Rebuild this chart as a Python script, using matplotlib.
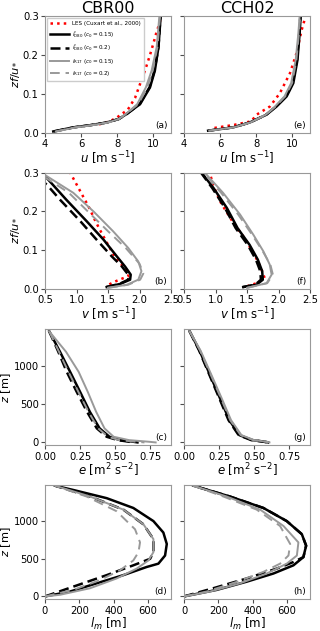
import matplotlib
matplotlib.use('Agg')

import matplotlib.pyplot as plt
import numpy as np

# ---- (a) CBR00 u ----
a_les_u = [7.0, 7.6, 8.0, 8.6, 9.0, 9.28, 9.55, 9.83, 10.05, 10.2, 10.35, 10.45]
a_les_z = [0.022, 0.03, 0.04, 0.06, 0.09, 0.126, 0.16, 0.2, 0.235, 0.26, 0.28, 0.3]
a_d15_u = [4.46, 5.57, 6.5, 7.43, 8.1, 8.54, 9.28, 9.83, 10.1, 10.3, 10.43]
a_d15_z = [0.004, 0.0145, 0.02, 0.027, 0.036, 0.049, 0.074, 0.117, 0.16, 0.22, 0.305]
a_d20_u = [4.5, 5.6, 6.5, 7.45, 8.1, 8.55, 9.25, 9.8, 10.08, 10.3, 10.42]
a_d20_z = [0.004, 0.0145, 0.02, 0.027, 0.036, 0.049, 0.074, 0.117, 0.16, 0.22, 0.305]
a_r15_u = [4.6, 5.7, 6.6, 7.5, 8.1, 8.5, 9.12, 9.6, 9.92, 10.2, 10.36]
a_r15_z = [0.004, 0.0145, 0.02, 0.027, 0.036, 0.049, 0.074, 0.117, 0.16, 0.22, 0.305]
a_r20_u = [4.6, 5.7, 6.6, 7.5, 8.1, 8.5, 9.18, 9.68, 9.98, 10.24, 10.4]
a_r20_z = [0.004, 0.0145, 0.02, 0.027, 0.036, 0.049, 0.074, 0.117, 0.16, 0.22, 0.305]

# ---- (e) CCH02 u ----
e_les_u = [5.69, 6.8, 7.73, 8.03, 8.77, 9.32, 9.88, 10.25, 10.53, 10.72]
e_les_z = [0.013, 0.021, 0.03, 0.047, 0.068, 0.102, 0.153, 0.205, 0.264, 0.294]
e_d15_u = [5.34, 6.73, 7.65, 8.58, 9.14, 9.7, 10.07, 10.3, 10.42, 10.48]
e_d15_z = [0.006, 0.0145, 0.027, 0.047, 0.068, 0.094, 0.128, 0.1875, 0.256, 0.3]
e_d20_u = [5.36, 6.75, 7.66, 8.56, 9.1, 9.66, 10.03, 10.27, 10.4, 10.46]
e_d20_z = [0.006, 0.0145, 0.027, 0.047, 0.068, 0.094, 0.128, 0.1875, 0.256, 0.3]
e_r15_u = [5.4, 6.76, 7.68, 8.55, 9.05, 9.58, 9.95, 10.2, 10.35, 10.42]
e_r15_z = [0.006, 0.0145, 0.027, 0.047, 0.068, 0.094, 0.128, 0.1875, 0.256, 0.3]
e_r20_u = [5.4, 6.76, 7.68, 8.56, 9.08, 9.62, 10.0, 10.24, 10.38, 10.45]
e_r20_z = [0.006, 0.0145, 0.027, 0.047, 0.068, 0.094, 0.128, 0.1875, 0.256, 0.3]

# ---- (b) CBR00 v ----
b_les_v = [1.52, 1.65, 1.82, 1.82, 1.70, 1.6, 1.48, 1.38, 1.3, 1.2, 1.1, 0.9]
b_les_z = [0.012, 0.022, 0.033, 0.045, 0.065, 0.085, 0.12, 0.15, 0.175, 0.21, 0.24, 0.3]
b_d15_v = [1.479, 1.69, 1.85, 1.86, 1.77, 1.64, 1.43, 1.16, 0.84, 0.53, 0.5]
b_d15_z = [0.005, 0.013, 0.024, 0.037, 0.058, 0.084, 0.127, 0.175, 0.23, 0.286, 0.292]
b_d20_v = [1.47, 1.68, 1.82, 1.82, 1.72, 1.56, 1.32, 1.06, 0.74, 0.53, 0.5]
b_d20_z = [0.005, 0.013, 0.024, 0.037, 0.058, 0.084, 0.127, 0.175, 0.23, 0.269, 0.273]
b_r15_v = [1.5, 1.80, 1.98, 2.03, 1.98, 1.82, 1.58, 1.27, 0.95, 0.53, 0.5]
b_r15_z = [0.003, 0.011, 0.024, 0.046, 0.071, 0.106, 0.149, 0.2, 0.248, 0.291, 0.294]
b_r20_v = [1.5, 1.82, 2.01, 2.06, 2.0, 1.78, 1.5, 1.18, 0.88, 0.53, 0.5]
b_r20_z = [0.003, 0.011, 0.024, 0.04, 0.065, 0.106, 0.149, 0.2, 0.248, 0.285, 0.288]

# ---- (f) CCH02 v ----
f_les_v = [1.5, 1.65, 1.78, 1.72, 1.62, 1.46, 1.27, 1.09, 0.96, 0.91]
f_les_z = [0.007, 0.015, 0.028, 0.054, 0.088, 0.131, 0.174, 0.221, 0.268, 0.3]
f_d15_v = [1.44, 1.65, 1.75, 1.74, 1.67, 1.54, 1.35, 1.18, 0.97, 0.78]
f_d15_z = [0.005, 0.011, 0.024, 0.046, 0.076, 0.114, 0.157, 0.209, 0.26, 0.3]
f_d20_v = [1.43, 1.63, 1.72, 1.71, 1.64, 1.51, 1.32, 1.15, 0.95, 0.77]
f_d20_z = [0.005, 0.011, 0.024, 0.046, 0.076, 0.114, 0.157, 0.209, 0.26, 0.3]
f_r15_v = [1.5, 1.81, 1.89, 1.86, 1.76, 1.60, 1.39, 1.12, 0.83]
f_r15_z = [0.003, 0.015, 0.037, 0.063, 0.097, 0.14, 0.192, 0.248, 0.3]
f_r20_v = [1.5, 1.82, 1.91, 1.87, 1.75, 1.58, 1.36, 1.09, 0.81]
f_r20_z = [0.003, 0.015, 0.037, 0.063, 0.097, 0.14, 0.192, 0.248, 0.3]

# ---- (c) CBR00 e ----
c_z = [1450, 1183, 922, 661, 400, 183, 74, 30, 9, 0]
c_d15_e = [0.03, 0.107, 0.179, 0.25, 0.32, 0.39, 0.46, 0.536, 0.63, 0.66]
c_d20_e = [0.03, 0.095, 0.155, 0.226, 0.30, 0.37, 0.44, 0.52, 0.6, 0.63]
c_r15_e = [0.03, 0.15, 0.24, 0.305, 0.365, 0.425, 0.49, 0.6, 0.74, 0.79]
c_r20_e = [0.03, 0.10, 0.167, 0.238, 0.31, 0.38, 0.45, 0.53, 0.65, 0.71]

# ---- (g) CCH02 e ----
g_z = [1450, 1199, 896, 593, 290, 95, 30, 9, 0]
g_d15_e = [0.04, 0.111, 0.182, 0.253, 0.324, 0.395, 0.49, 0.58, 0.6]
g_d20_e = [0.04, 0.108, 0.178, 0.248, 0.318, 0.39, 0.48, 0.57, 0.59]
g_r15_e = [0.04, 0.118, 0.192, 0.265, 0.336, 0.41, 0.5, 0.59, 0.61]
g_r20_e = [0.04, 0.115, 0.188, 0.26, 0.33, 0.405, 0.495, 0.585, 0.6]

# ---- (d) CBR00 lm ----
d_d15_l = [0, 146, 301, 457, 593, 661, 700, 710, 690, 632, 515, 360, 165, 58]
d_d15_z = [0, 65, 174, 283, 391, 435, 543, 696, 848, 1000, 1174, 1304, 1413, 1470]
d_d20_l = [0, 165, 360, 515, 613, 632, 632, 574, 457, 263, 58]
d_d20_z = [0, 130, 283, 413, 500, 587, 761, 957, 1152, 1326, 1470]
d_r15_l = [0, 88, 263, 418, 535, 603, 632, 632, 574, 457, 263, 58]
d_r15_z = [0, 22, 109, 239, 370, 478, 587, 761, 957, 1152, 1326, 1470]
d_r20_l = [0, 165, 321, 438, 515, 545, 554, 525, 418, 243, 58]
d_r20_z = [0, 87, 217, 348, 478, 587, 717, 891, 1130, 1326, 1470]

# ---- (h) CCH02 lm ----
h_d15_l = [0, 191, 366, 521, 638, 696, 712, 687, 599, 463, 268, 54]
h_d15_z = [0, 87, 196, 304, 413, 522, 674, 826, 1000, 1174, 1326, 1470]
h_d20_l = [0, 171, 366, 541, 638, 696, 712, 687, 599, 463, 268, 54]
h_d20_z = [0, 109, 239, 370, 457, 522, 674, 826, 1000, 1174, 1326, 1470]
h_r15_l = [0, 152, 327, 482, 599, 658, 667, 580, 444, 249, 54]
h_r15_z = [0, 65, 174, 304, 435, 543, 717, 935, 1152, 1326, 1470]
h_r20_l = [0, 132, 311, 463, 560, 609, 619, 560, 424, 230, 54]
h_r20_z = [0, 65, 196, 326, 435, 543, 696, 935, 1152, 1326, 1470]

labels = ["LES (Cuxart et al., 2000)",
          r"$l^{*}_{\rm D80}$ ($c_0 = 0.15$)",
          r"$l^{*}_{\rm D80}$ ($c_0 = 0.2$)",
          r"$l_{\rm R17}$ ($c_0 = 0.15$)",
          r"$l_{\rm R17}$ ($c_0 = 0.2$)"]

GRAY = '#999999'
styles = [dict(color='red', ls=':', lw=1.8),
          dict(color='black', ls='-', lw=1.8),
          dict(color='black', ls=(0, (4, 2)), lw=1.8),
          dict(color=GRAY, ls='-', lw=1.4),
          dict(color=GRAY, ls=(0, (5, 3)), lw=1.4)]

fig = plt.figure(figsize=(3.2, 6.31), dpi=100)

cols = [0.1406, 0.575]
w = 0.394
rows = [(0.7892, 0.1854), (0.542, 0.1843), (0.294, 0.1846), (0.050, 0.1815)]


def mk(r, c):
    ax = fig.add_axes([cols[c], rows[r][0], w, rows[r][1]])
    for s in ax.spines.values():
        s.set_color(GRAY)
    ax.tick_params(labelsize=7.2, length=3, color='0.3', pad=1.5)
    if c == 1:
        ax.tick_params(labelleft=False)
    return ax


def curves(ax, data):
    for i, d in enumerate(data):
        if d is None:
            continue
        ax.plot(d[0], d[1], label=labels[i], **styles[i])


def tag(ax, t):
    ax.text(0.97, 0.03, t, transform=ax.transAxes, ha='right', va='bottom', fontsize=6.5)


panels = [
    (0, 0, '(a)', [(a_les_u, a_les_z), (a_d15_u, a_d15_z), (a_d20_u, a_d20_z), (a_r15_u, a_r15_z), (a_r20_u, a_r20_z)]),
    (0, 1, '(e)', [(e_les_u, e_les_z), (e_d15_u, e_d15_z), (e_d20_u, e_d20_z), (e_r15_u, e_r15_z), (e_r20_u, e_r20_z)]),
    (1, 0, '(b)', [(b_les_v, b_les_z), (b_d15_v, b_d15_z), (b_d20_v, b_d20_z), (b_r15_v, b_r15_z), (b_r20_v, b_r20_z)]),
    (1, 1, '(f)', [(f_les_v, f_les_z), (f_d15_v, f_d15_z), (f_d20_v, f_d20_z), (f_r15_v, f_r15_z), (f_r20_v, f_r20_z)]),
    (2, 0, '(c)', [None, (c_d15_e, c_z), (c_d20_e, c_z), (c_r15_e, c_z), (c_r20_e, c_z)]),
    (2, 1, '(g)', [None, (g_d15_e, g_z), (g_d20_e, g_z), (g_r15_e, g_z), (g_r20_e, g_z)]),
    (3, 0, '(d)', [None, (d_d15_l, d_d15_z), (d_d20_l, d_d20_z), (d_r15_l, d_r15_z), (d_r20_l, d_r20_z)]),
    (3, 1, '(h)', [None, (h_d15_l, h_d15_z), (h_d20_l, h_d20_z), (h_r15_l, h_r15_z), (h_r20_l, h_r20_z)]),
]

xlims = [(4, 11), (0.5, 2.5), (0, 0.9), (0, 735)]
ylims = [(0, 0.3), (0, 0.3), (-40, 1480), (-40, 1480)]
xlabels = [r"$u$ [m s$^{-1}$]", r"$v$ [m s$^{-1}$]", r"$e$ [m$^2$ s$^{-2}$]", r"$l_m$ [m]"]
ylabels = [r"$zf/u_{*}$", r"$zf/u_{*}$", r"$z$ [m]", r"$z$ [m]"]
xticks = [[4, 6, 8, 10], [0.5, 1.0, 1.5, 2.0, 2.5], [0, 0.25, 0.5, 0.75], [0, 200, 400, 600]]
yticks = [[0, 0.1, 0.2, 0.3], [0, 0.1, 0.2, 0.3], [0, 500, 1000], [0, 500, 1000]]

for r, c, t, data in panels:
    ax = mk(r, c)
    curves(ax, data)
    ax.set_xlim(*xlims[r])
    ax.set_ylim(*ylims[r])
    ax.set_xticks(xticks[r])
    ax.set_yticks(yticks[r])
    if r == 1 or r == 0:
        ax.set_yticklabels(['0.0', '0.1', '0.2', '0.3'])
    if r == 1:
        ax.set_xticklabels(['0.5', '1.0', '1.5', '2.0', '2.5'])
    if r == 2:
        ax.set_xticklabels(['0.00', '0.25', '0.50', '0.75'])
    ax.set_xlabel(xlabels[r], fontsize=8.5, labelpad=0)
    if c == 0:
        ax.set_ylabel(ylabels[r], fontsize=8.2, labelpad=0.5)
    tag(ax, t)
    if r == 0:
        ax.set_title("CBR00" if c == 0 else "CCH02", fontsize=11.5, pad=1.5)
    if r == 0 and c == 0:
        ax.legend(loc='upper left', fontsize=4.1, handlelength=3.4, borderpad=0.5,
                  labelspacing=0.55, handletextpad=0.6, borderaxespad=0.3,
                  frameon=True, edgecolor='0.8', framealpha=1, fancybox=False)

fig.savefig('out.png', dpi=100)
